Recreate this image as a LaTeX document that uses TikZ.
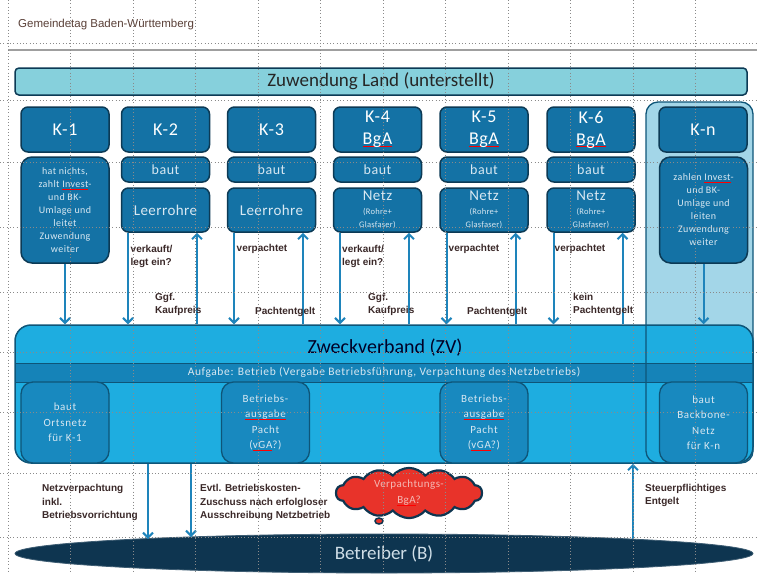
\documentclass[tikz,border=0pt]{standalone}
\usepackage{fontspec}
\setmainfont{Carlito}
\newfontfamily\arialf{Liberation Sans}
\usetikzlibrary{shapes.geometric,shapes.symbols,arrows.meta,calc}
\definecolor{kfill}{HTML}{1472A5}
\definecolor{kdraw}{HTML}{0C3A55}
\definecolor{landfill}{HTML}{86D0DC}
\definecolor{zvfill}{HTML}{1EADE0}
\definecolor{zvdraw}{HTML}{0E5578}
\definecolor{bandfill}{HTML}{1583B8}
\definecolor{innerfill}{HTML}{1889BF}
\definecolor{colfill}{HTML}{A3D6E8}
\definecolor{arrc}{HTML}{1E84BB}
\definecolor{betrc}{HTML}{0E3550}
\definecolor{labc}{HTML}{3A2828}
\definecolor{hdrc}{HTML}{5A4038}
\definecolor{cloudred}{HTML}{E8332A}
\definecolor{cloudtxt}{HTML}{F4B8B4}
\definecolor{lighttxt}{HTML}{D8E8F2}
\definecolor{gridc}{HTML}{8A8A8A}
\newcommand\redul[1]{\setbox0\hbox{#1}\rlap{\color{red}\rule[-1.8pt]{\wd0}{0.6pt}}\box0}
\newcommand\fsz[3]{\fontsize{#1}{#2}\selectfont\addfontfeature{LetterSpace=#3}}
\tikzset{
  kbox/.style={draw=kdraw, line width=1.5pt, fill=kfill, rounded corners=7pt, text=white, align=center, inner sep=0pt, minimum width=88pt},
  kbig/.style={kbox, minimum height=45pt, font=\fsz{18}{22}{3}},
  kbaut/.style={kbox, minimum height=25pt, font=\fsz{14}{16}{4}, text=lighttxt},
  klow/.style={kbox, minimum height=44pt, font=\fsz{15}{17}{3}, text=lighttxt},
  ktall/.style={kbox, rounded corners=11pt, minimum height=106pt, font=\fsz{10}{13}{4}, text=lighttxt},
  zin/.style={draw=zvdraw, line width=1.3pt, fill=innerfill, rounded corners=12pt, text=lighttxt, align=center, inner sep=0pt, minimum width=88pt, minimum height=81pt, font=\fsz{11}{15.5}{6}},
  arr/.style={draw=arrc, line width=2pt, -{Straight Barb[length=5pt,width=10pt]}},
  lab/.style={font=\arialf\bfseries\fontsize{10}{13.5}\selectfont, text=labc, align=left, anchor=west, inner sep=0pt},
  gridl/.style={draw=gridc, line width=0.7pt, dash pattern=on 0.7pt off 2.6pt},
}
\begin{document}
\begin{tikzpicture}[x=1pt,y=-1pt]
\useasboundingbox (0,0) rectangle (757,574);
\fill[white] (0,0) rectangle (757,574);
% header
\node[anchor=west, font=\arialf\fontsize{11.5}{13}\selectfont, text=hdrc, inner sep=0pt] (hdr) at (18,25) {Gemeindetag Baden-Württemberg};
\draw[gray!75, line width=1.2pt] (8,50) -- (757,50);
% land
\node[draw=kdraw, line width=1.5pt, fill=landfill, rounded corners=4pt, minimum width=732pt, minimum height=27pt, inner sep=0pt, font=\fontsize{19}{21}\selectfont, text=black!85] (land) at (381,81.5) {Zuwendung Land (unterstellt)};
% K-n column background
\fill[colfill] (646,102) [rounded corners=12pt] rectangle (753,463);
% top row
\node[kbig] (k1) at (65,129.5) {K-1};
\node[kbig] (k2) at (165.5,129.5) {K-2};
\node[kbig] (k3) at (271.5,129.5) {K-3};
\node[kbig] (k4) at (377.5,129.5) {K-4\\\redul{BgA}};
\node[kbig] (k5) at (484,129.5) {K-5\\\redul{BgA}};
\node[kbig] (k6) at (591,129.5) {K-6\\\redul{BgA}};
\node[kbig] (kn) at (703,129.5) {K-n};
% baut row
\node[kbaut] (b2) at (165.5,169.5) {baut};
\node[kbaut] (b3) at (271.5,169.5) {baut};
\node[kbaut] (b4) at (377.5,169.5) {baut};
\node[kbaut] (b5) at (484,169.5) {baut};
\node[kbaut] (b6) at (591,169.5) {baut};
% low row
\node[klow] (l2) at (165.5,210) {Leerrohre};
\node[klow] (l3) at (271.5,210) {Leerrohre};
\node[klow] (l4) at (377.5,210) {Netz\\[-3pt]{\fsz{8.5}{12}{3}(Rohre+}\\[-4pt]{\fsz{8.5}{12}{3}Glasfaser)}};
\node[klow] (l5) at (484,210) {Netz\\[-3pt]{\fsz{8.5}{12}{3}(Rohre+}\\[-4pt]{\fsz{8.5}{12}{3}Glasfaser)}};
\node[klow] (l6) at (591,210) {Netz\\[-3pt]{\fsz{8.5}{12}{3}(Rohre+}\\[-4pt]{\fsz{8.5}{12}{3}Glasfaser)}};
% tall boxes
\node[ktall] (t1) at (65,210) {hat nichts,\\zahlt \redul{Invest}-\\und BK-\\Umlage und\\leitet\\Zuwendung\\weiter};
\node[ktall] (tn) at (703.5,210) {zahlen \redul{Invest}-\\und BK-\\Umlage und\\leiten\\Zuwendung\\weiter};
% ZV
\node[draw=zvdraw, line width=1.5pt, fill=zvfill, rounded corners=16pt, minimum width=738pt, minimum height=138pt, inner sep=0pt] (zv) at (384,394) {};
\node[font=\fontsize{20}{22}\selectfont, text=black!85!blue, inner sep=0pt] (zvt) at (385,348) {Zweckverband (ZV)};
\node[draw=zvdraw, line width=1pt, fill=bandfill, minimum width=738pt, minimum height=19pt, inner sep=0pt, font=\fsz{11.5}{13}{5.5}, text=lighttxt] (band) at (384,372.5) {Aufgabe: Betrieb (Vergabe Betriebsführung, Verpachtung des Netzbetriebs)};
\node[zin] (z1) at (65,422.5) {baut\\Ortsnetz\\für K-1};
\node[zin] (z2) at (265.5,422.5) {Betriebs-\\\redul{ausgabe}\\Pacht\\(\redul{vGA}?)};
\node[zin] (z3) at (484,422.5) {Betriebs-\\\redul{ausgabe}\\Pacht\\(\redul{vGA}?)};
\node[zin] (z4) at (703.5,422.5) {baut\\Backbone-\\Netz\\für K-n};
% K-n column outline
\draw[zvdraw, line width=1.3pt, rounded corners=12pt] (646,102) rectangle (753,463);
% arrows top
\draw[arr] (t1.south) -- (t1.south |- zv.north);
\draw[arr] (tn.south) -- (tn.south |- zv.north);
\foreach \n in {l2,l3,l4,l5,l6}{
  \draw[arr] ([xshift=-37.5pt]\n.south) -- ([xshift=-37.5pt]\n.south |- zv.north);
  \draw[arr] ([xshift=31.5pt]\n.south |- zv.north) -- ([xshift=31.5pt]\n.south);
}
% labels top
\node[lab] (v2) at (130.5,256.5) {verkauft/\\legt ein?};
\node[lab] (g2) at (155,304.5) {Ggf.\\Kaufpreis};
\node[lab] (v3) at (236.5,249) {verpachtet};
\node[lab] (p3) at (255,312) {Pachtentgelt};
\node[lab] (v4) at (342,256.5) {verkauft/\\legt ein?};
\node[lab] (g4) at (368,304.5) {Ggf.\\Kaufpreis};
\node[lab] (v5) at (448.5,249) {verpachtet};
\node[lab] (p5) at (467,312) {Pachtentgelt};
\node[lab] (v6) at (554.5,249) {verpachtet};
\node[lab] (p6) at (573,304.5) {kein\\Pachtentgelt};
% Betreiber
\node[ellipse, fill=betrc, draw=betrc!80!white, line width=0.8pt, minimum width=738pt, minimum height=39pt, inner sep=0pt, font=\fontsize{19}{21}\selectfont, text=lighttxt!90!gray] (betr) at (384,553.5) {Betreiber (B)};
\coordinate (e1) at (148,539);
\coordinate (e2) at (191,537);
\coordinate (e3) at (633,539);
\draw[arr] (e1 |- zv.south) -- (e1);
\draw[arr] (e2 |- zv.south) -- (e2);
\draw[arr] (e3) -- (e3 |- zv.south);
% bottom labels
\node[lab] (nv) at (42,502.5) {Netzverpachtung\\inkl.\\Betriebsvorrichtung};
\node[lab] (ev) at (200,502.5) {Evtl. Betriebskosten-\\Zuschuss nach erfolgloser\\Ausschreibung Netzbetrieb};
\node[lab] (st) at (645,495.5) {Steuerpflichtiges\\Entgelt};
% cloud
\node[cloud, cloud puffs=14, cloud puff arc=100, aspect=4, fill=cloudred, draw=betrc, line width=2.2pt, minimum width=146pt, minimum height=36pt, inner sep=0pt, align=center, text=cloudtxt, font=\fsz{11}{16}{4}] (cl) at (409,493) {Verpachtungs-\\\redul{BgA}?};
\node[ellipse, fill=cloudred, draw=betrc, line width=1.5pt, minimum width=8pt, minimum height=6pt, inner sep=0pt] (tail) at (379,521) {};
% grid overlay
\foreach \gy in {43,100,162,227,292,352,412,473,537}{
  \draw[gridl] (0,\gy) -- (757,\gy);
}
\foreach \gx in {8,70.5,133,195.5,258,320.5,383,445.5,508,570.5,633,695.5}{
  \draw[gridl] (\gx,0) -- (\gx,574);
}
\end{tikzpicture}
\end{document}
